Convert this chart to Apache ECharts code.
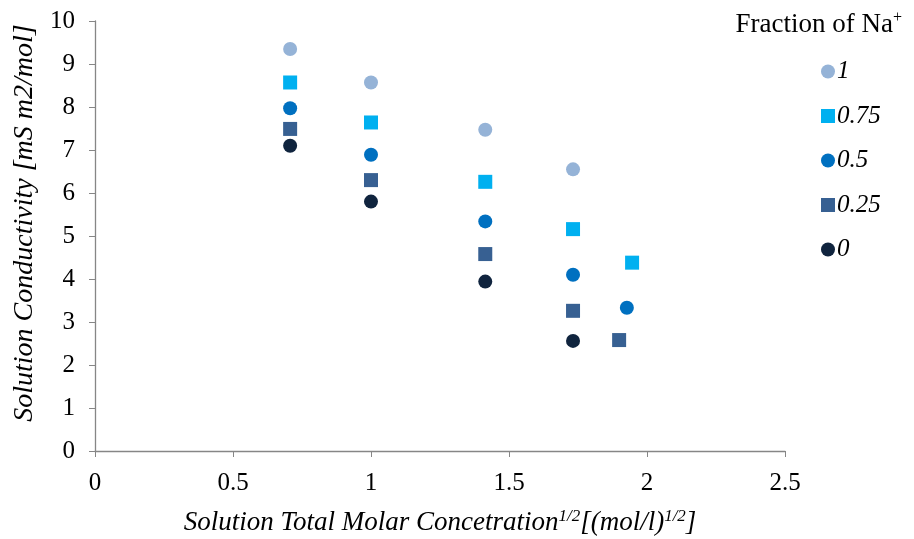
<!DOCTYPE html>
<html><head><meta charset="utf-8">
<script src="https://cdn.jsdelivr.net/npm/echarts@6/dist/echarts.min.js"></script>
<style>html,body{margin:0;padding:0;background:#fff}#c{width:914px;height:539px}</style>
</head><body><div id="c"></div>
<script>
const seriesNames = ['1', '0.75', '0.5', '0.25', '0'];
const xVals1 = [0.707, 1, 1.414, 1.732];
const yVals1 = [9.35, 8.57, 7.47, 6.55];
const xVals075 = [0.707, 1, 1.414, 1.732, 1.946];
const yVals075 = [8.57, 7.64, 6.26, 5.16, 4.38];
const xVals05 = [0.707, 1, 1.414, 1.732, 1.927];
const yVals05 = [7.97, 6.89, 5.34, 4.10, 3.33];
const xVals025 = [0.707, 1, 1.414, 1.732, 1.899];
const yVals025 = [7.49, 6.30, 4.58, 3.26, 2.58];
const xVals0 = [0.707, 1, 1.414, 1.732];
const yVals0 = [7.10, 5.80, 3.94, 2.56];
const xTicks = [0, 0.5, 1, 1.5, 2, 2.5];
const yTicks = [0,1,2,3,4,5,6,7,8,9,10];

const colors = ['#95B3D7', '#00B0F0', '#0070C0', '#376092', '#10243E'];
const symbols = ['circle', 'rect', 'circle', 'rect', 'circle'];
const xs = [xVals1, xVals075, xVals05, xVals025, xVals0];
const ys = [yVals1, yVals075, yVals05, yVals025, yVals0];
const serif = '"Liberation Serif", "Times New Roman", serif';

const chart = echarts.init(document.getElementById('c'), null, {renderer: 'canvas'});
chart.setOption({
  animation: false,
  backgroundColor: '#fff',
  grid: {left: 95, right: 129, top: 21, bottom: 88, containLabel: false, outerBoundsMode: 'none'},
  title: {
    text: '{a|Fraction of Na}{s|+}',
    right: 7, top: 5,
    textStyle: {
      fontWeight: 'normal',
      rich: {
        a: {fontFamily: serif, fontSize: 27, color: '#000', fontWeight: 'normal'},
        s: {fontFamily: serif, fontSize: 16, color: '#000', fontWeight: 'normal', verticalAlign: 'top', padding: [0,0,13,0]}
      }
    }
  },
  legend: {
    orient: 'vertical',
    left: 816, top: 54,
    itemWidth: 14, itemHeight: 14, itemGap: 19.5,
    textStyle: {fontFamily: serif, fontSize: 25, fontStyle: 'italic', color: '#000', padding: [0,0,0,-3]},
    data: seriesNames.map((n, i) => ({name: n, icon: symbols[i] === 'rect' ? 'rect' : 'circle'}))
  },
  xAxis: {
    type: 'value', min: 0, max: 2.5, interval: 0.5,
    splitLine: {show: false},
    axisLine: {lineStyle: {color: '#868686', width: 1.3}},
    axisTick: {show: true, length: 6, lineStyle: {color: '#868686'}},
    axisLabel: {fontFamily: serif, fontSize: 25, color: '#000', margin: 20,
      formatter: v => String(v)},
    name: '{i|Solution Total Molar Concetration}{s|1/2}{i|[(mol/l)}{s|1/2}{i|]}',
    nameLocation: 'middle', nameGap: 57,
    nameTextStyle: {
      rich: {
        i: {fontFamily: serif, fontSize: 27, fontStyle: 'italic', color: '#000'},
        s: {fontFamily: serif, fontSize: 17, fontStyle: 'italic', color: '#000', verticalAlign: 'top', padding: [0,0,12,0]}
      }
    }
  },
  yAxis: {
    type: 'value', min: 0, max: 10, interval: 1,
    splitLine: {show: false},
    axisLine: {show: true, lineStyle: {color: '#868686', width: 1.3}},
    axisTick: {show: true, length: 6, lineStyle: {color: '#868686'}},
    axisLabel: {fontFamily: serif, fontSize: 25, color: '#000', margin: 20},
    name: 'Solution Conductivity [mS m2/mol]',
    nameLocation: 'middle', nameGap: 56,
    nameTextStyle: {fontFamily: serif, fontSize: 28, fontStyle: 'italic', color: '#000', padding: [0,0,0,26]}
  },
  series: seriesNames.map((n, i) => ({
    name: n,
    type: 'scatter',
    symbol: symbols[i],
    symbolSize: 14,
    itemStyle: {color: colors[i], opacity: 1},
    data: xs[i].map((x, j) => [x, ys[i][j]])
  }))
});
</script></body></html>
